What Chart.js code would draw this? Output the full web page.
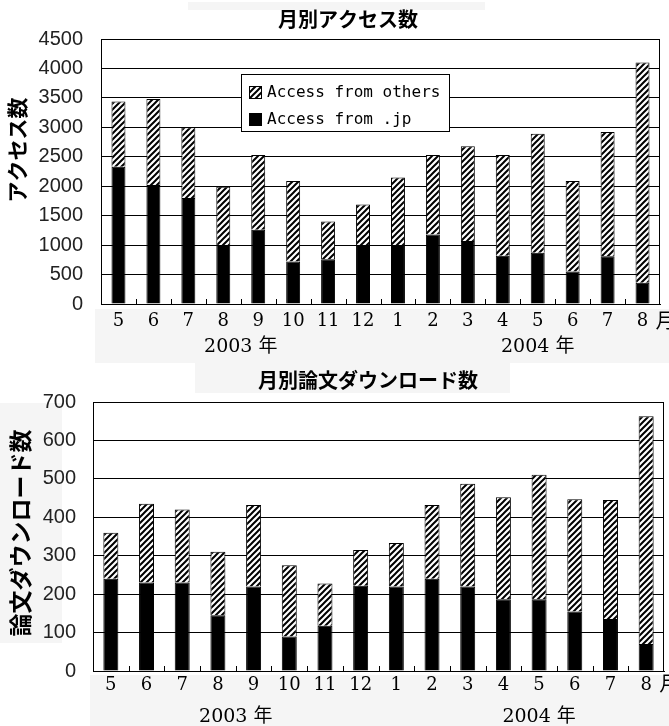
<!DOCTYPE html>
<html lang="ja">
<head>
<meta charset="UTF-8">
<title>月別アクセス数・月別論文ダウンロード数</title>
<script src="https://cdn.jsdelivr.net/npm/chart.js"></script>
<style>
    body { margin: 0; background: #fff; }
    canvas { display: block; }
</style>
</head>
<body>

<canvas id="graficoAcesso" width="669" height="363"></canvas>
<canvas id="graficoDownload" width="669" height="363"></canvas>

<script>
    // meses (mai/2003 .. ago/2004)
    const meses = ['5', '6', '7', '8', '9', '10', '11', '12', '1', '2', '3', '4', '5', '6', '7', '8'];
    const anos = ['2003 年', '2004 年'];

    // 月別アクセス数
    const acessoJp = [2330, 2020, 1800, 1000, 1260, 720, 760, 1000, 1000, 1180, 1070, 820, 870, 550, 810, 360];
    const acessoOutros = [1110, 1460, 1200, 990, 1270, 1370, 640, 690, 1150, 1350, 1610, 1710, 2020, 1540, 2110, 3740];

    // 月別論文ダウンロード数
    const downloadJp = [240, 230, 230, 145, 220, 90, 118, 222, 220, 240, 220, 187, 187, 155, 135, 70];
    const downloadOutros = [120, 205, 190, 165, 212, 185, 110, 93, 113, 192, 267, 265, 324, 292, 310, 593];

    // padrao hachurado (listras diagonais)
    function criarHachura() {
        const c = document.createElement('canvas');
        c.width = 6; c.height = 6;
        const g = c.getContext('2d');
        g.fillStyle = '#fff';
        g.fillRect(0, 0, 6, 6);
        g.strokeStyle = '#000';
        g.lineWidth = 2;
        g.beginPath();
        g.moveTo(-1, 7); g.lineTo(7, -1);
        g.moveTo(-1, 1); g.lineTo(1, -1);
        g.moveTo(5, 7); g.lineTo(7, 5);
        g.stroke();
        return g.createPattern(c, 'repeat');
    }
    const hachura = criarHachura();

    // desenha titulo, moldura, marcas do eixo x, anos e legenda
    const decoracao = {
        id: 'decoracao',
        beforeDraw(chart, args, opts) {
            const ctx = chart.ctx;
            ctx.save();
            ctx.fillStyle = '#f5f5f5';
            opts.faixas.forEach(f => ctx.fillRect(f[0], f[1], f[2], f[3]));
            ctx.restore();
        },
        afterDraw(chart, args, opts) {
            const ctx = chart.ctx;
            const a = chart.chartArea;
            const x = chart.scales.x;
            ctx.save();

            // moldura
            ctx.strokeStyle = '#000';
            ctx.lineWidth = 1;
            ctx.strokeRect(Math.round(a.left) + 0.5, Math.round(a.top) + 0.5,
                Math.round(a.right - a.left) - 1, Math.round(a.bottom - a.top));

            // marcas entre as barras
            ctx.beginPath();
            for (let i = 0; i < meses.length - 1; i++) {
                const px = Math.round((x.getPixelForValue(i) + x.getPixelForValue(i + 1)) / 2) + 0.5;
                ctx.moveTo(px, a.bottom);
                ctx.lineTo(px, a.bottom - 5);
            }
            ctx.stroke();

            ctx.fillStyle = '#000';
            ctx.textAlign = 'center';
            ctx.textBaseline = 'middle';

            // titulo
            ctx.font = 'bold 20px "Noto Sans CJK JP"';
            ctx.fillText(opts.titulo, opts.tituloX, opts.tituloY);

            // titulo do eixo y
            ctx.save();
            ctx.translate(opts.eixoX, opts.eixoY);
            ctx.rotate(-Math.PI / 2);
            ctx.font = 'bold ' + opts.eixoFonte + 'px "Noto Sans CJK JP"';
            ctx.fillText(opts.eixoTitulo, 0, 0);
            ctx.restore();

            // anos
            ctx.font = '19px "DejaVu Serif", "Noto Sans CJK JP"';
            anos.forEach((ano, i) => {
                ctx.fillText(ano, x.getPixelForValue(opts.anosPos[i]), opts.anosY);
            });

            // 月
            ctx.textAlign = 'left';
            ctx.font = '20px "Noto Sans CJK JP"';
            ctx.fillText('月', x.getPixelForValue(meses.length - 1) + 13, opts.mesY);

            // legenda
            if (opts.legenda) {
                const L = opts.legenda;
                ctx.fillStyle = '#fff';
                ctx.fillRect(L.x, L.y, L.w, L.h);
                ctx.strokeRect(L.x + 0.5, L.y + 0.5, L.w, L.h);
                ctx.font = '16px "DejaVu Sans Mono"';
                ctx.textBaseline = 'middle';
                const itens = chart.data.datasets.slice().reverse();
                itens.forEach((ds, i) => {
                    const cy = L.y + 19 + i * 27;
                    ctx.fillStyle = ds.backgroundColor;
                    ctx.fillRect(L.x + 8, cy - 7, 13, 13);
                    ctx.strokeRect(L.x + 8.5, cy - 6.5, 12, 12);
                    ctx.fillStyle = '#000';
                    ctx.fillText(ds.label, L.x + 26, cy);
                });
            }
            ctx.restore();
        }
    };

    function montarGrafico(id, jp, outros, maximo, passo, deco) {
        return new Chart(document.getElementById(id), {
            type: 'bar',
            data: {
                labels: meses,
                datasets: [
                    {
                        label: 'Access from .jp',
                        data: jp,
                        backgroundColor: '#000',
                        borderColor: '#000',
                        borderWidth: 1,
                        barPercentage: deco.barra,
                        categoryPercentage: 1
                    },
                    {
                        label: 'Access from others',
                        data: outros,
                        backgroundColor: hachura,
                        borderColor: '#000',
                        borderWidth: 1,
                        barPercentage: deco.barra,
                        categoryPercentage: 1
                    }
                ]
            },
            options: {
                responsive: false,
                animation: false,
                layout: { padding: { top: deco.topo, right: deco.direita, left: 0, bottom: 0 } },
                plugins: {
                    legend: { display: false },
                    tooltip: { enabled: false },
                    decoracao: deco
                },
                scales: {
                    x: {
                        stacked: true,
                        grid: { display: false },
                        border: { color: '#000' },
                        ticks: {
                            color: '#000',
                            font: { family: 'DejaVu Serif', size: 18 },
                            padding: deco.padX,
                            maxRotation: 0,
                            autoSkip: false
                        },
                        afterFit: s => { s.height = deco.alturaX; }
                    },
                    y: {
                        stacked: true,
                        min: 0,
                        max: maximo,
                        ticks: {
                            stepSize: passo,
                            color: '#222',
                            font: { family: 'Liberation Sans', size: 20 },
                            padding: deco.padY,
                            callback: v => String(v)
                        },
                        grid: { color: '#000', drawTicks: false },
                        border: { color: '#000' },
                        afterFit: s => { s.width = deco.larguraY; }
                    }
                }
            },
            plugins: [decoracao]
        });
    }

    montarGrafico('graficoAcesso', acessoJp, acessoOutros, 4500, 500, {
        titulo: '月別アクセス数', tituloX: 348, tituloY: 19,
        eixoTitulo: 'アクセス数', eixoX: 17, eixoY: 150, eixoFonte: 21,
        anosPos: [3.5, 12], anosY: 347, mesY: 320,
        topo: 39, direita: 9, larguraY: 101, alturaX: 59, padX: -1, padY: 18, barra: 0.4,
        faixas: [[188, 2, 297, 8], [95, 309, 574, 54]],
        legenda: { x: 241, y: 74, w: 208, h: 57 }
    });

    montarGrafico('graficoDownload', downloadJp, downloadOutros, 700, 100, {
        titulo: '月別論文ダウンロード数', tituloX: 368, tituloY: 17,
        eixoTitulo: '論文ダウンロード数', eixoX: 20, eixoY: 170, eixoFonte: 23,
        anosPos: [3.5, 12], anosY: 354, mesY: 320,
        topo: 39, direita: 5, larguraY: 93, alturaX: 55, padX: -4, padY: 17, barra: 0.42,
        faixas: [[195, 0, 315, 30], [90, 312, 579, 51], [0, 40, 62, 240]],
        legenda: null
    });
</script>

</body>
</html>
